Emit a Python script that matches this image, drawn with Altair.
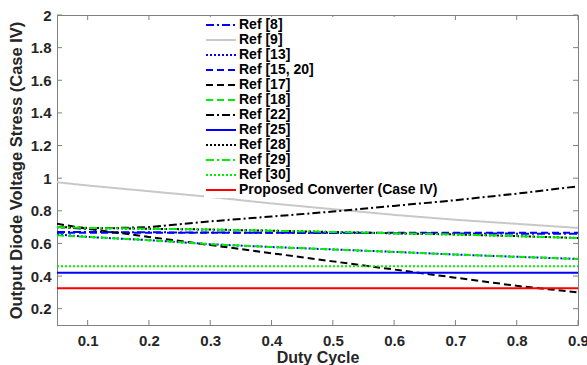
import altair as alt
import pandas as pd

duty = [0.05, 0.1, 0.2, 0.3, 0.4, 0.5, 0.6, 0.7, 0.8, 0.9]

series_names = ["Ref [8]", "Ref [9]", "Ref [13]", "Ref [15, 20]", "Ref [17]", "Ref [18]",
                "Ref [22]", "Ref [25]", "Ref [28]", "Ref [29]", "Ref [30]",
                "Proposed Converter (Case IV)"]

ref8 = [0.670, 0.670, 0.668, 0.667, 0.665, 0.664, 0.663, 0.661, 0.660, 0.659]
ref9 = [0.975, 0.955, 0.920, 0.885, 0.845, 0.810, 0.775, 0.745, 0.720, 0.695]
ref13 = [0.655, 0.640, 0.620, 0.595, 0.578, 0.563, 0.548, 0.532, 0.518, 0.505]
ref15_20 = [0.665, 0.665, 0.665, 0.665, 0.665, 0.665, 0.665, 0.665, 0.665, 0.665]
ref17 = [0.720, 0.690, 0.640, 0.590, 0.540, 0.490, 0.440, 0.390, 0.340, 0.300]
ref18 = [0.650, 0.640, 0.620, 0.595, 0.578, 0.563, 0.548, 0.532, 0.518, 0.505]
ref22 = [0.700, 0.690, 0.700, 0.735, 0.765, 0.795, 0.830, 0.865, 0.905, 0.950]
ref25 = [0.420, 0.420, 0.420, 0.420, 0.420, 0.420, 0.420, 0.420, 0.420, 0.420]
ref28 = [0.700, 0.695, 0.690, 0.685, 0.678, 0.670, 0.662, 0.655, 0.645, 0.633]
ref29 = [0.700, 0.695, 0.690, 0.685, 0.678, 0.670, 0.662, 0.655, 0.645, 0.633]
ref30 = [0.460, 0.460, 0.460, 0.460, 0.460, 0.460, 0.460, 0.460, 0.460, 0.460]
proposed = [0.325, 0.325, 0.325, 0.325, 0.325, 0.325, 0.325, 0.325, 0.325, 0.325]

all_values = [ref8, ref9, ref13, ref15_20, ref17, ref18, ref22, ref25, ref28, ref29, ref30, proposed]

series_colors = ["#0000ff", "#c8c8c8", "#0000ff", "#0000ff", "#000000", "#00ee00",
                 "#000000", "#0000ff", "#000000", "#00ee00", "#00ee00", "#ff0000"]
series_dashes = [[8, 3, 2, 3], [1, 0], [2, 2], [7, 4], [7, 4], [7, 4],
                 [8, 3, 2, 3], [1, 0], [2, 2], [8, 3, 2, 3], [2, 2], [1, 0]]
series_widths = [2, 2, 2, 2, 2, 2, 2, 2, 2, 2, 2, 3]

x_ticks = [0.1, 0.2, 0.3, 0.4, 0.5, 0.6, 0.7, 0.8, 0.9]
y_ticks = [0.2, 0.4, 0.6, 0.8, 1.0, 1.2, 1.4, 1.6, 1.8, 2.0]

rows = []
for name, vals in zip(series_names, all_values):
    for d, v in zip(duty, vals):
        rows.append({"series": name, "duty": d, "stress": v})
df = pd.DataFrame(rows)

W, H = 521, 310
FONT = "Liberation Sans"
AX = "#808080"

xscale = alt.Scale(domain=[0.05, 0.9], nice=False, zero=False)
yscale = alt.Scale(domain=[0.1, 2.0], nice=False, zero=False)

xaxis = alt.Axis(values=x_ticks, format="~g", tickSize=0, labelPadding=8,
                 labelOverlap=False, labelBound=False, labelFlush=False,
                 domainColor=AX, labelFont=FONT, labelFontSize=15,
                 labelFontWeight="bold", labelColor="#262626",
                 titleFont=FONT, titleFontSize=16, titleFontWeight="bold",
                 titleColor="#262626", titlePadding=1, grid=False)
yaxis = alt.Axis(values=y_ticks, format="~g", tickSize=0, labelPadding=6,
                 labelOverlap=False, labelBound=False, labelFlush=False,
                 domainColor=AX, labelFont=FONT, labelFontSize=15,
                 labelFontWeight="bold", labelColor="#262626",
                 titleFont=FONT, titleFontSize=16.5, titleFontWeight="bold",
                 titleColor="#262626", titlePadding=6, grid=False)
XT = "Duty Cycle"
YT = "Output Diode Voltage Stress (Case IV)"

lines = alt.Chart(df).mark_line(clip=True).encode(
    x=alt.X("duty:Q", scale=xscale, title=XT, axis=xaxis),
    y=alt.Y("stress:Q", scale=yscale, title=YT, axis=yaxis),
    color=alt.Color("series:N", scale=alt.Scale(domain=series_names, range=series_colors),
                    legend=alt.Legend(title=None, orient="none", legendX=147, legendY=2,
                                      symbolType="stroke", symbolSize=900,
                                      symbolStrokeWidth=2, labelFont=FONT,
                                      labelFontSize=14, labelFontWeight="bold",
                                      labelColor="#000000", rowPadding=1, labelOffset=2,
                                      clipHeight=14, labelLimit=400,
                                      fillColor="white", padding=1)),
    strokeDash=alt.StrokeDash("series:N", scale=alt.Scale(domain=series_names, range=series_dashes),
                              legend=alt.Legend(title=None)),
    strokeWidth=alt.StrokeWidth("series:N", scale=alt.Scale(domain=series_names, range=series_widths),
                                legend=alt.Legend(title=None)),
    order=alt.Order("series:N"),
)

xt = pd.DataFrame({"t": x_ticks})
yt = pd.DataFrame({"t": y_ticks})

xtick_bottom = alt.Chart(xt).mark_rule(color=AX).encode(
    x=alt.X("t:Q", scale=xscale, title=XT, axis=xaxis), y=alt.value(H), y2=alt.value(H - 5))
xtick_top = alt.Chart(xt).mark_rule(color=AX).encode(
    x=alt.X("t:Q", scale=xscale, title=XT, axis=xaxis), y=alt.value(0), y2=alt.value(5))
ytick_left = alt.Chart(yt).mark_rule(color=AX).encode(
    y=alt.Y("t:Q", scale=yscale, title=YT, axis=yaxis), x=alt.value(0), x2=alt.value(5))
ytick_right = alt.Chart(yt).mark_rule(color=AX).encode(
    y=alt.Y("t:Q", scale=yscale, title=YT, axis=yaxis), x=alt.value(W), x2=alt.value(W - 5))

chart = alt.layer(lines, xtick_bottom, xtick_top, ytick_left, ytick_right).properties(
    width=W, height=H,
    autosize=alt.AutoSizeParams(type="none"),
    padding={"left": 57, "top": 15, "right": 9, "bottom": 40},
    background="white",
).configure_view(stroke=AX, strokeWidth=1)

chart.save("out.html", embed_options={"renderer": "svg", "actions": False})
